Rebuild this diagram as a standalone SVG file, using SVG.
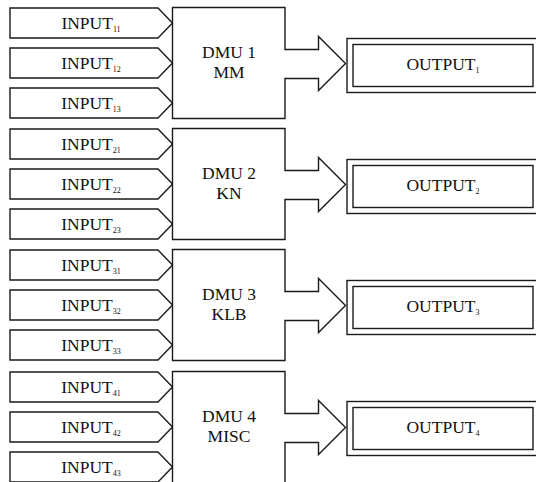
<svg xmlns="http://www.w3.org/2000/svg" width="536" height="482" viewBox="0 0 536 482">
<style>
.s{fill:#fff;stroke:#1a1a1a;stroke-width:1.4;stroke-linejoin:miter}
text{font-family:'Liberation Serif','Times New Roman','DejaVu Serif',serif;font-size:17.5px;fill:#111;text-anchor:middle}
.sub{font-size:8px}
</style>
<rect width="536" height="482" fill="#fff"/>
<g id="connectors">
</g>
<g id="dmu1">
<path class="s" d="M10,8 H158 L172.5,23 L158,38 H10 Z"/>
<path class="s" d="M10,48 H158 L172.5,63 L158,78 H10 Z"/>
<path class="s" d="M10,88 H158 L172.5,103 L158,118 H10 Z"/>
<text x="91" y="29">INPUT<tspan class="sub" dy="3">11</tspan></text>
<text x="91" y="69">INPUT<tspan class="sub" dy="3">12</tspan></text>
<text x="91" y="109">INPUT<tspan class="sub" dy="3">13</tspan></text>
<path class="s" d="M172.5,7.5 H285 V49.5 H318.5 V36.5 L345.5,63.5 L318.5,90.5 V78.5 H285 V118.5 H172.5 Z"/>
<text x="229" y="58">DMU 1</text>
<text x="229" y="77.5">MM</text>
</g>
<g id="out1">
<rect class="s" x="347" y="38.5" width="190" height="54"/>
<rect class="s" x="353" y="44.5" width="180" height="42"/>
<text x="443" y="70">OUTPUT<tspan class="sub" dy="3">1</tspan></text>
</g>
<g id="dmu2">
<path class="s" d="M10,129 H158 L172.5,144 L158,159 H10 Z"/>
<path class="s" d="M10,169 H158 L172.5,184 L158,199 H10 Z"/>
<path class="s" d="M10,209 H158 L172.5,224 L158,239 H10 Z"/>
<text x="91" y="150">INPUT<tspan class="sub" dy="3">21</tspan></text>
<text x="91" y="190">INPUT<tspan class="sub" dy="3">22</tspan></text>
<text x="91" y="230">INPUT<tspan class="sub" dy="3">23</tspan></text>
<path class="s" d="M172.5,128.5 H285 V170.5 H318.5 V157.5 L345.5,184.5 L318.5,211.5 V199.5 H285 V239.5 H172.5 Z"/>
<text x="229" y="179">DMU 2</text>
<text x="229" y="198.5">KN</text>
</g>
<g id="out2">
<rect class="s" x="347" y="159.5" width="190" height="54"/>
<rect class="s" x="353" y="165.5" width="180" height="42"/>
<text x="443" y="191">OUTPUT<tspan class="sub" dy="3">2</tspan></text>
</g>
<g id="dmu3">
<path class="s" d="M10,250 H158 L172.5,265 L158,280 H10 Z"/>
<path class="s" d="M10,290 H158 L172.5,305 L158,320 H10 Z"/>
<path class="s" d="M10,330 H158 L172.5,345 L158,360 H10 Z"/>
<text x="91" y="271">INPUT<tspan class="sub" dy="3">31</tspan></text>
<text x="91" y="311">INPUT<tspan class="sub" dy="3">32</tspan></text>
<text x="91" y="351">INPUT<tspan class="sub" dy="3">33</tspan></text>
<path class="s" d="M172.5,249.5 H285 V291.5 H318.5 V278.5 L345.5,305.5 L318.5,332.5 V320.5 H285 V360.5 H172.5 Z"/>
<text x="229" y="300">DMU 3</text>
<text x="229" y="319.5">KLB</text>
</g>
<g id="out3">
<rect class="s" x="347" y="280.5" width="190" height="54"/>
<rect class="s" x="353" y="286.5" width="180" height="42"/>
<text x="443" y="312">OUTPUT<tspan class="sub" dy="3">3</tspan></text>
</g>
<g id="dmu4">
<path class="s" d="M10,372 H158 L172.5,387 L158,402 H10 Z"/>
<path class="s" d="M10,412 H158 L172.5,427 L158,442 H10 Z"/>
<path class="s" d="M10,452 H158 L172.5,467 L158,482 H10 Z"/>
<text x="91" y="393">INPUT<tspan class="sub" dy="3">41</tspan></text>
<text x="91" y="433">INPUT<tspan class="sub" dy="3">42</tspan></text>
<text x="91" y="473">INPUT<tspan class="sub" dy="3">43</tspan></text>
<path class="s" d="M172.5,371.5 H285 V413.5 H318.5 V400.5 L345.5,427.5 L318.5,454.5 V442.5 H285 V483 H172.5 Z"/>
<text x="229" y="422">DMU 4</text>
<text x="229" y="441.5">MISC</text>
</g>
<g id="out4">
<rect class="s" x="347" y="401.5" width="190" height="54"/>
<rect class="s" x="353" y="407.5" width="180" height="42"/>
<text x="443" y="433">OUTPUT<tspan class="sub" dy="3">4</tspan></text>
</g>
</svg>
